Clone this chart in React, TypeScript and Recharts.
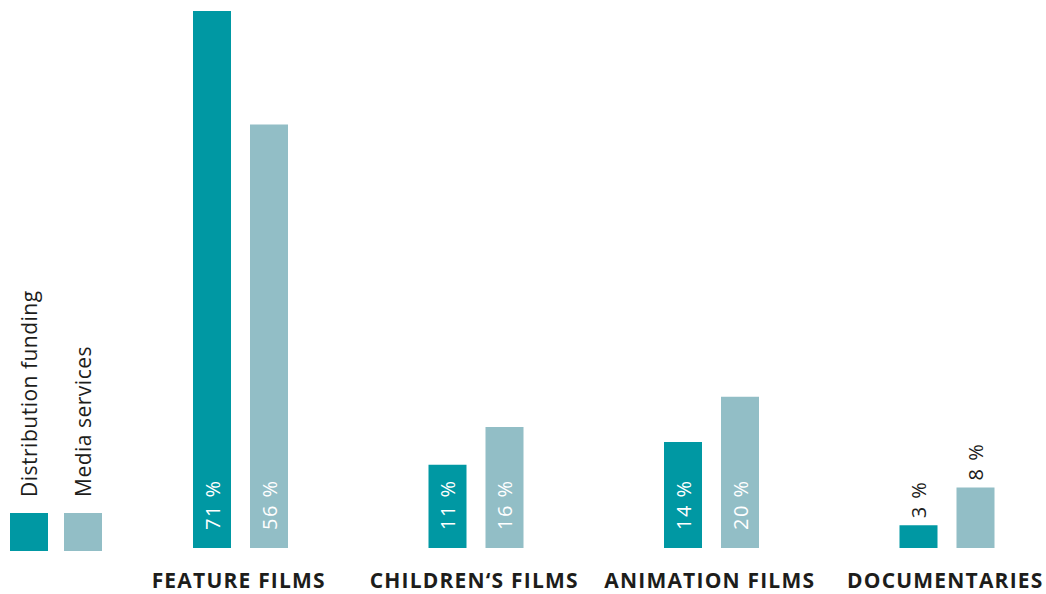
import React from "react";
import { BarChart, Bar, XAxis, YAxis, Legend, LabelList } from "recharts";

const categories = ["FEATURE FILMS", "CHILDREN‘S FILMS", "ANIMATION FILMS", "DOCUMENTARIES"];
const distributionFunding = [71, 11, 14, 3];
const mediaServices = [56, 16, 20, 8];
const seriesNames = ["Distribution funding", "Media services"];

const DARK = "#0098A3";
const LIGHT = "#92BEC6";
const TEXT = "#1d1d1b";
const FONT = "'Open Sans', 'Noto Sans', sans-serif";

const data = categories.map((name, i) => ({
    name,
    dist: distributionFunding[i],
    media: mediaServices[i],
}));

const ValueLabel = (props: any) => {
    const { x, y, width, height, value } = props;
    const cx = x + width / 2;
    const inside = height > 70;
    const ty = inside ? y + height - 18 : y - 7;
    return (
        <text
            x={cx}
            y={ty}
            transform={`rotate(-90, ${cx}, ${ty})`}
            textAnchor="start"
            dominantBaseline="central"
            fill={inside ? "#ffffff" : TEXT}
            fontFamily={FONT}
            fontSize={20}
            letterSpacing={1.5}
        >
            {`${value} %`}
        </text>
    );
};

const CategoryTick = (props: any) => {
    const { x, y, payload } = props;
    return (
        <text
            x={x - 2}
            y={y + 40}
            textAnchor="middle"
            fill={TEXT}
            fontFamily={FONT}
            fontWeight={700}
            fontSize={21}
            letterSpacing={1.2}
        >
            {payload.value}
        </text>
    );
};

const LegendContent = (props: any) => {
    const { payload } = props;
    return (
        <svg width={110} height={280}>
            {(payload || []).map((item: any, i: number) => {
                const sx = 10 + i * 54;
                const cx = sx + 19;
                return (
                    <g key={item.value}>
                        <rect x={sx} y={233} width={38} height={38} fill={item.color} />
                        <text
                            x={cx}
                            y={217}
                            transform={`rotate(-90, ${cx}, 217)`}
                            textAnchor="start"
                            dominantBaseline="central"
                            fill={TEXT}
                            fontFamily={FONT}
                            fontSize={21}
                            letterSpacing={0.5}
                        >
                            {item.value}
                        </text>
                    </g>
                );
            })}
        </svg>
    );
};

export default function App() {
    return (
        <div
            style={{
                position: "absolute",
                left: 0,
                top: 0,
                width: 1046,
                height: 594,
                overflow: "hidden",
                background: "#fff",
            }}
        >
            <BarChart
                width={1065}
                height={594}
                data={data}
                margin={{ top: 11, right: 0, bottom: 0, left: 13 }}
                barSize={38}
                barGap={19}
            >
                <XAxis
                    dataKey="name"
                    axisLine={false}
                    tickLine={false}
                    tickSize={0}
                    tickMargin={0}
                    height={46}
                    interval={0}
                    tick={<CategoryTick />}
                />
                <YAxis hide domain={[0, 71]} />
                <Legend
                    layout="horizontal"
                    verticalAlign="middle"
                    align="left"
                    content={<LegendContent />}
                    wrapperStyle={{ position: "absolute", left: 0, top: 280, width: 110, height: 280 }}
                />
                <Bar dataKey="dist" name={seriesNames[0]} fill={DARK} isAnimationActive={false}>
                    <LabelList dataKey="dist" content={<ValueLabel />} />
                </Bar>
                <Bar dataKey="media" name={seriesNames[1]} fill={LIGHT} isAnimationActive={false}>
                    <LabelList dataKey="media" content={<ValueLabel />} />
                </Bar>
            </BarChart>
        </div>
    );
}
